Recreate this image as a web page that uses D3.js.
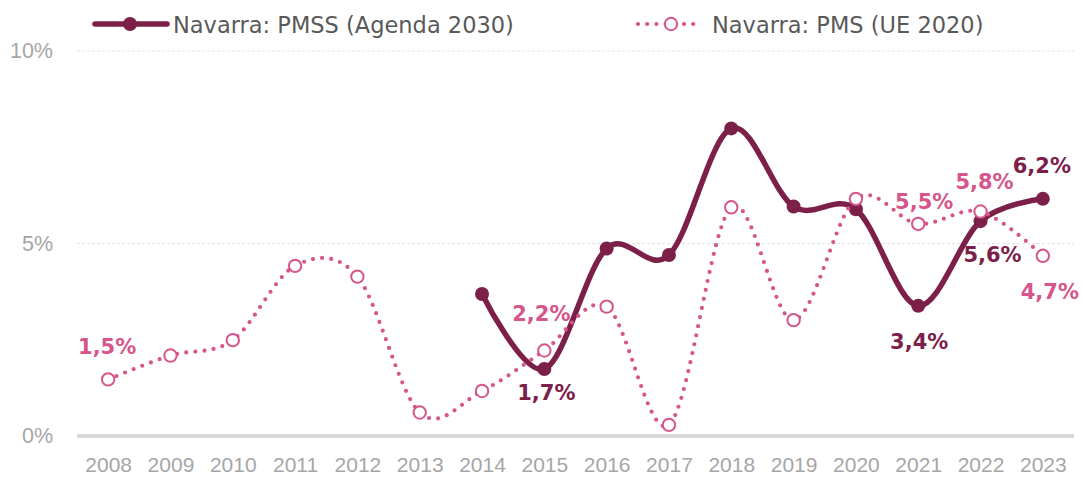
<!DOCTYPE html>
<html>
<head>
<meta charset="utf-8">
<script src="https://cdn.jsdelivr.net/npm/d3@7"></script>
<style>
  html, body { margin: 0; padding: 0; background: #ffffff; }
  svg { display: block; }
</style>
</head>
<body>
<svg id="chart" width="1082" height="477"></svg>
<script>
// ---- Data ----
const years = ["2008","2009","2010","2011","2012","2013","2014","2015","2016","2017","2018","2019","2020","2021","2022","2023"];
const pmssValues = [null, null, null, null, null, null, 3.69, 1.74, 4.87, 4.70, 7.99, 5.96, 5.89, 3.38, 5.58, 6.16];
const pmsValues  = [1.47, 2.09, 2.49, 4.42, 4.14, 0.61, 1.17, 2.22, 3.36, 0.29, 5.94, 3.01, 6.16, 5.51, 5.83, 4.68];
const seriesNames = ["Navarra: PMSS (Agenda 2030)", "Navarra: PMS (UE 2020)"];
const yTicks = [0, 5, 10];
const yTickLabels = ["0%", "5%", "10%"];
// labelled points per series
const pmssLabelYears = ["2015", "2021", "2022", "2023"];
const pmsLabelYears  = ["2008", "2015", "2021", "2022", "2023"];

// ---- Styling / layout ----
const darkColor = "#7c2049";
const pinkColor = "#d6558b";
const axisText = "#a6a6a6";
const legendText = "#595959";

const svg = d3.select("#chart");
const plot = { left: 77, right: 1074, top: 51, bottom: 436 };

const x = d3.scalePoint().domain(years).range([plot.left, plot.right]).padding(0.5);
const y = d3.scaleLinear().domain([0, 10]).range([plot.bottom, plot.top]);

// gridlines
svg.append("g").selectAll("line").data(yTicks.filter(t => t !== 0)).join("line")
  .attr("x1", plot.left).attr("x2", plot.right)
  .attr("y1", d => y(d)).attr("y2", d => y(d))
  .attr("stroke", "#e3e3e3").attr("stroke-width", 1).attr("stroke-dasharray", "3 2");

// baseline
svg.append("line")
  .attr("x1", plot.left).attr("x2", plot.right)
  .attr("y1", y(0)).attr("y2", y(0))
  .attr("stroke", "#d9d9d9").attr("stroke-width", 4);

// y axis labels
const yAxis = d3.axisLeft(y).tickValues(yTicks).tickSize(0).tickPadding(0)
  .tickFormat((d, i) => yTickLabels[i]);
const gy = svg.append("g").attr("transform", `translate(53,0)`).call(yAxis);
gy.select(".domain").remove();
gy.selectAll("text").attr("fill", axisText).style("font-family", "'Liberation Sans', Arial, sans-serif").style("font-size", "21.5px");

// x axis labels
const xAxis = d3.axisBottom(x).tickSize(0).tickPadding(0);
const gx = svg.append("g").attr("transform", `translate(0,458)`).call(xAxis);
gx.select(".domain").remove();
gx.selectAll("text").attr("y", 14).attr("dy", null)
  .attr("fill", axisText).style("font-family", "'Liberation Sans', Arial, sans-serif").style("font-size", "21px");

const curve = d3.curveCardinal.tension(0);

const pmssPts = years.map((yr, i) => ({ yr, v: pmssValues[i] }));
const pmsPts = years.map((yr, i) => ({ yr, v: pmsValues[i] }));

const lineGen = d3.line().defined(d => d.v != null).x(d => x(d.yr)).y(d => y(d.v)).curve(curve);

// PMSS line (dark, solid)
svg.append("path").datum(pmssPts.filter(d => d.v != null))
  .attr("d", lineGen).attr("fill", "none")
  .attr("stroke", darkColor).attr("stroke-width", 5.5).attr("stroke-linejoin", "round").attr("stroke-linecap", "round");

svg.append("g").selectAll("circle").data(pmssPts.filter(d => d.v != null)).join("circle")
  .attr("cx", d => x(d.yr)).attr("cy", d => y(d.v)).attr("r", 7)
  .attr("fill", darkColor);

// PMS line (pink, dotted)
svg.append("path").datum(pmsPts)
  .attr("d", lineGen).attr("fill", "none")
  .attr("stroke", pinkColor).attr("stroke-width", 4.2).attr("stroke-linecap", "round")
  .attr("stroke-dasharray", "0 9.2");

svg.append("g").selectAll("circle").data(pmsPts).join("circle")
  .attr("cx", d => x(d.yr)).attr("cy", d => y(d.v)).attr("r", 6.2)
  .attr("fill", "#ffffff").attr("stroke", pinkColor).attr("stroke-width", 2);

// data labels
const fmt = v => d3.format(".1f")(v).replace(".", ",") + "%";
// label nudges (annotation placement, px relative to the point)
const labelNudge = {
  "pmss-2015": [2, 24], "pmss-2021": [1, 36], "pmss-2022": [12, 34], "pmss-2023": [-1, -33],
  "pms-2008": [-1, -32], "pms-2015": [-3, -37], "pms-2021": [6, -22], "pms-2022": [4, -30], "pms-2023": [7, 36]
};
const labelData = [];
pmssLabelYears.forEach(yr => { const i = years.indexOf(yr); labelData.push({ key: "pmss-" + yr, yr, v: pmssValues[i], color: darkColor }); });
pmsLabelYears.forEach(yr => { const i = years.indexOf(yr); labelData.push({ key: "pms-" + yr, yr, v: pmsValues[i], color: pinkColor }); });

svg.append("g").selectAll("text").data(labelData).join("text")
  .attr("x", d => x(d.yr) + labelNudge[d.key][0])
  .attr("y", d => y(d.v) + labelNudge[d.key][1])
  .attr("text-anchor", "middle").attr("dominant-baseline", "central")
  .attr("fill", d => d.color)
  .style("font-family", "'DejaVu Sans', sans-serif").style("font-weight", "bold").style("font-size", "21px")
  .text(d => fmt(d.v));

// legend
const lg = svg.append("g");
lg.append("line").attr("x1", 95).attr("x2", 167).attr("y1", 24).attr("y2", 24)
  .attr("stroke", darkColor).attr("stroke-width", 5.5).attr("stroke-linecap", "round");
lg.append("circle").attr("cx", 130).attr("cy", 24).attr("r", 7).attr("fill", darkColor);
lg.append("text").attr("x", 173).attr("y", 25).attr("dominant-baseline", "central")
  .attr("fill", legendText).style("font-family", "'DejaVu Sans', sans-serif").style("font-size", "22.5px")
  .text(seriesNames[0]);

lg.append("line").attr("x1", 638).attr("x2", 697).attr("y1", 24).attr("y2", 24)
  .attr("stroke", pinkColor).attr("stroke-width", 4.2).attr("stroke-linecap", "round").attr("stroke-dasharray", "0 9.2");
lg.append("circle").attr("cx", 671).attr("cy", 24).attr("r", 6.2).attr("fill", "#fff").attr("stroke", pinkColor).attr("stroke-width", 2);
lg.append("text").attr("x", 712).attr("y", 25).attr("dominant-baseline", "central")
  .attr("fill", legendText).style("font-family", "'DejaVu Sans', sans-serif").style("font-size", "22.5px")
  .text(seriesNames[1]);
</script>
</body>
</html>
